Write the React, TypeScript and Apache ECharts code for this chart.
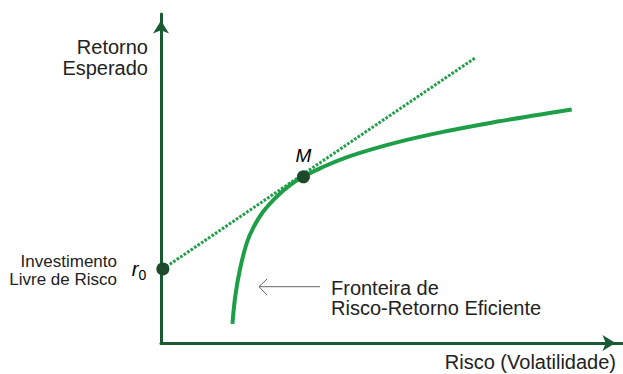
import React, { useEffect, useRef } from "react";
import * as echarts from "echarts";

// Efficient frontier (risk, expected return), arbitrary units 0..100
const frontierRisk = [15.5, 16.1, 17.1, 18.6, 20.0, 22.1, 25.1, 28.0, 30.8, 34.5, 41.0, 51.8, 62.7, 73.0, 82.0, 89.1];
const frontierReturn = [5.8, 14.1, 22.2, 30.4, 35.0, 39.8, 44.5, 48.0, 50.5, 53.1, 56.8, 61.2, 64.6, 67.3, 69.4, 71.0];

// Capital market line (from risk-free point through M)
const cmlRisk = [0.4, 68.3];
const cmlReturn = [22.5, 86.8];

// Key points
const riskFree = [0.4, 22.5];
const marketPoint = [30.9, 50.5];

const AXIS_COLOR = "#1a5a32";
const CURVE_COLOR = "#1f9e48";
const DOT_COLOR = "#1c4a2b";
const TEXT_COLOR = "#222222";
const FONT = "'Liberation Sans', Arial, sans-serif";

export default function App() {
  const ref = useRef<HTMLDivElement>(null);

  useEffect(() => {
    if (!ref.current) return;
    const chart = echarts.init(ref.current, null, { renderer: "svg" });

    const axisCommon = {
      type: "value" as const,
      min: 0,
      max: 100,
      axisLine: {
        show: true,
        onZero: false,
        symbol: ["none", "arrow"],
        symbolSize: [12, 13],
        symbolOffset: [0, -6.5],
        lineStyle: { color: AXIS_COLOR, width: 3 },
      },
      axisTick: { show: false },
      axisLabel: { show: false },
      splitLine: { show: false },
    };

    chart.setOption({
      animation: false,
      backgroundColor: "#ffffff",
      grid: { left: 161, right: 1, top: 14, bottom: 31 },
      xAxis: { ...axisCommon },
      yAxis: { ...axisCommon },
      series: [
        {
          type: "line",
          data: frontierRisk.map((r, i) => [r, frontierReturn[i]]),
          smooth: 0.4,
          showSymbol: false,
          lineStyle: { color: CURVE_COLOR, width: 4 },
          z: 3,
        },
        {
          type: "line",
          data: cmlRisk.map((r, i) => [r, cmlReturn[i]]),
          showSymbol: false,
          lineStyle: { color: CURVE_COLOR, width: 3, type: [2.6, 1.6] },
          z: 2,
        },
        {
          type: "scatter",
          symbolSize: 13,
          itemStyle: { color: DOT_COLOR, opacity: 1 },
          z: 5,
          data: [
            { value: riskFree },
            {
              value: marketPoint,
              label: {
                show: true,
                position: "top",
                distance: 5,
                formatter: "M",
                fontFamily: FONT,
                fontStyle: "italic",
                fontSize: 19,
                color: "#000",
              },
            },
          ],
        },
      ],
      graphic: [
        {
          type: "text",
          x: 148,
          y: 36,
          style: {
            text: "Retorno\nEsperado",
            align: "right",
            verticalAlign: "top",
            font: `20px ${FONT}`,
            lineHeight: 21,
            fill: TEXT_COLOR,
          },
        },
        {
          type: "text",
          x: 117,
          y: 252,
          style: {
            text: "Investimento\nLivre de Risco",
            align: "right",
            verticalAlign: "top",
            font: `17px ${FONT}`,
            lineHeight: 18,
            fill: TEXT_COLOR,
          },
        },
        {
          type: "text",
          x: 138.5,
          y: 268.5,
          style: {
            text: "r",
            align: "right",
            verticalAlign: "middle",
            font: `italic 20px ${FONT}`,
            fill: "#000",
          },
        },
        {
          type: "text",
          x: 138.5,
          y: 275,
          style: {
            text: "0",
            align: "left",
            verticalAlign: "middle",
            font: `14px ${FONT}`,
            fill: "#000",
          },
        },
        {
          type: "text",
          x: 331,
          y: 278,
          style: {
            text: "Fronteira de\nRisco-Retorno Eficiente",
            align: "left",
            verticalAlign: "top",
            font: `20px ${FONT}`,
            lineHeight: 20,
            fill: TEXT_COLOR,
          },
        },
        {
          type: "text",
          x: 616,
          y: 352,
          style: {
            text: "Risco (Volatilidade)",
            align: "right",
            verticalAlign: "top",
            font: `20px ${FONT}`,
            fill: TEXT_COLOR,
          },
        },
        {
          type: "line",
          shape: { x1: 259, y1: 286.7, x2: 320, y2: 286.7 },
          style: { stroke: "#666666", lineWidth: 1 },
        },
        {
          type: "polyline",
          shape: { points: [[267, 279], [259, 286.7], [267, 295]] },
          style: { stroke: "#666666", lineWidth: 1, fill: "none" },
        },
      ],
    });

    return () => chart.dispose();
  }, []);

  return (
    <div
      ref={ref}
      style={{ position: "fixed", left: 0, top: 0, width: 623, height: 374 }}
    />
  );
}
